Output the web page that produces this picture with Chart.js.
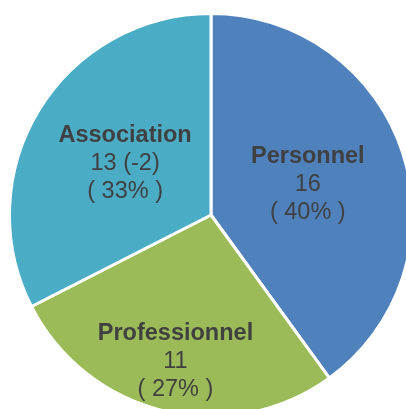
<!DOCTYPE html>
<html><head><meta charset="utf-8">
<script src="https://cdn.jsdelivr.net/npm/chart.js@4"></script>
<style>
html,body{margin:0;padding:0;overflow:hidden;width:406px;height:409px;background:#fff;}
#c{position:absolute;left:8px;top:12px;}
</style></head>
<body>
<canvas id="c" width="406" height="406"></canvas>
<script>
const categories = ["Personnel", "Professionnel", "Association"];
const values = [16, 11, 13];
const valueLabels = ["16", "11", "13 (-2)"];
const percentLabels = ["( 40% )", "( 27% )", "( 33% )"];

const colors = ["#4F81BD", "#9BBB59", "#4BACC6"];
const labelShift = [[1, 1], [-12, 49], [0, 1]];

const labelPlugin = {
  id: 'sliceLabels',
  afterDatasetsDraw(chart) {
    const ctx = chart.ctx;
    const meta = chart.getDatasetMeta(0);
    ctx.save();
    ctx.fillStyle = '#404040';
    ctx.textAlign = 'center';
    ctx.textBaseline = 'middle';
    meta.data.forEach((arc, i) => {
      const p = arc.tooltipPosition();
      const x = p.x + labelShift[i][0];
      const y = p.y + labelShift[i][1];
      ctx.font = 'bold 23.5px "Liberation Sans", Arial, sans-serif';
      ctx.fillText(categories[i], x, y - 28);
      ctx.font = '23.5px "Liberation Sans", Arial, sans-serif';
      ctx.fillText(valueLabels[i], x, y);
      ctx.fillText(percentLabels[i], x, y + 28);
    });
    ctx.restore();
  }
};

new Chart(document.getElementById('c'), {
  type: 'pie',
  data: {
    labels: categories,
    datasets: [{
      data: values,
      backgroundColor: colors,
      borderColor: '#ffffff',
      borderWidth: 3
    }]
  },
  options: {
    responsive: false,
    animation: false,
    layout: { padding: 0 },
    plugins: { legend: { display: false }, tooltip: { enabled: false } }
  },
  plugins: [labelPlugin]
});
</script>
</body></html>
